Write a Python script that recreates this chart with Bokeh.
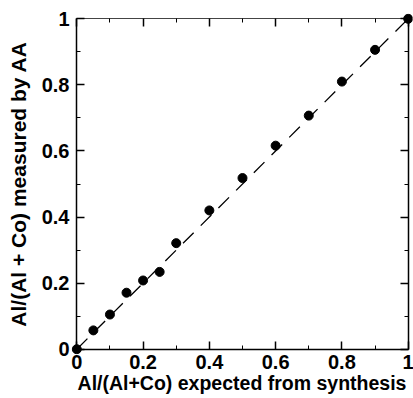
from bokeh.plotting import figure
from bokeh.models import LinearAxis, Range1d, CustomJSTickFormatter, FixedTicker
from bokeh.embed import file_html
from bokeh.resources import INLINE

expected = [0, 0.05, 0.1, 0.15, 0.2, 0.25, 0.3, 0.4, 0.5, 0.6, 0.7, 0.8, 0.9, 1.0]
measured = [0, 0.057, 0.105, 0.171, 0.208, 0.234, 0.321, 0.42, 0.518, 0.616, 0.707, 0.81, 0.906, 1.0]
line_x = [0, 1]
line_y = [0, 1]
ticks = [0, 0.2, 0.4, 0.6, 0.8, 1.0]
minor = [0.1, 0.3, 0.5, 0.7, 0.9]

FONT = "Liberation Sans"

p = figure(width=413, height=398, output_backend="svg", toolbar_location=None,
           x_range=Range1d(-0.016, 1.013), y_range=Range1d(-0.016, 1.016),
           min_border_left=71, min_border_right=1, min_border_top=13, min_border_bottom=44,
           x_axis_label="Al/(Al+Co) expected from synthesis",
           y_axis_label="Al/(Al + Co) measured by AA")
p.grid.visible = False
p.outline_line_color = None

fmt = CustomJSTickFormatter(code="return tick.toFixed(1).replace(/\\.0$/, '');")
blank = CustomJSTickFormatter(code="return '';")

# label-only axes at the frame edges
xa = p.xaxis[0]
ya = p.yaxis[0]
for ax in (xa, ya):
    ax.ticker = FixedTicker(ticks=ticks, minor_ticks=minor)
    ax.formatter = fmt
    ax.axis_line_color = None
    ax.major_tick_line_color = None
    ax.minor_tick_line_color = None
    ax.major_tick_in = 0
    ax.major_tick_out = 0
    ax.minor_tick_in = 0
    ax.minor_tick_out = 0
    ax.major_label_text_font = FONT
    ax.major_label_text_font_style = "bold"
    ax.major_label_text_font_size = "20px"
    ax.major_label_text_color = "black"
    ax.axis_label_text_font = FONT
    ax.axis_label_text_font_style = "bold"
    ax.axis_label_text_color = "black"
xa.axis_label_text_font_size = "19.5px"
ya.axis_label_text_font_size = "21px"
xa.major_label_standoff = 0
ya.major_label_standoff = 2
xa.axis_label_standoff = 0
ya.axis_label_standoff = 9


def frame_axis(loc, where, width=1.5, color="black"):
    ax = LinearAxis(ticker=FixedTicker(ticks=ticks, minor_ticks=minor), formatter=blank)
    ax.fixed_location = loc
    ax.bounds = (0, 1)
    ax.major_tick_in = 8
    ax.major_tick_out = 0
    ax.minor_tick_in = 4
    ax.minor_tick_out = 0
    ax.axis_line_width = width
    ax.axis_line_color = color
    ax.major_tick_line_width = 1.5
    ax.minor_tick_line_width = 1
    ax.major_label_standoff = 0
    p.add_layout(ax, where)


frame_axis(0, "below")
frame_axis(0, "left")
frame_axis(1, "above", width=1, color="#444444")
frame_axis(1, "right")

p.line(line_x, line_y, line_color="black", line_width=1.3, line_dash="15 10")
p.scatter(expected, measured, size=9, fill_color="black", line_color="black")

open("out.html", "w").write(file_html(p, INLINE))
